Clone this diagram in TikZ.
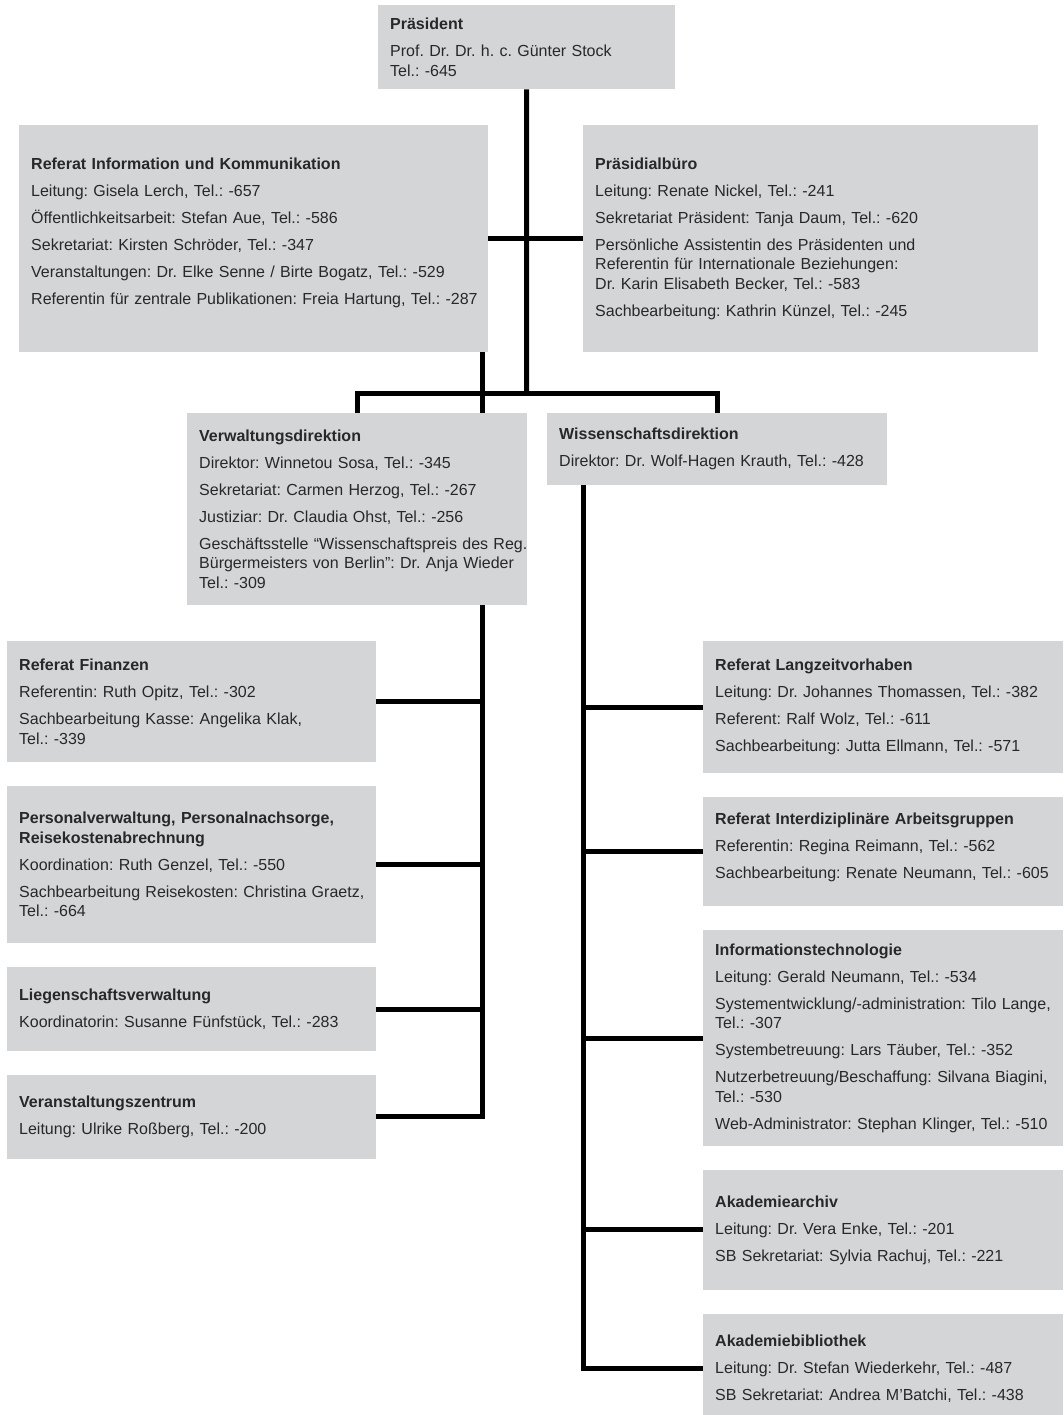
\documentclass[tikz,border=0pt]{standalone}
\usepackage{fontspec}
\setmainfont{Liberation Sans}
\usetikzlibrary{positioning,backgrounds}
\definecolor{boxgray}{RGB}{212,213,215}
\definecolor{inkgray}{RGB}{40,40,40}
\frenchspacing

\begin{document}
\begin{tikzpicture}[x=1pt, y=-1pt, node distance=23.5pt,
    unit/.style={rectangle, fill=boxgray, text=inkgray, align=left,
      inner xsep=12pt, inner ysep=0pt, anchor=north west,
      font=\fontsize{16}{19.5}\selectfont},
    leftcol/.style={unit, text width=345pt},
    rightcol/.style={unit, text width=336pt},
    link/.style={draw, black, line width=5pt}]

    \useasboundingbox (0,0) rectangle (1063,1415);

    % Place nodes: top of the chart
    \node [unit, text width=273pt, minimum height=84pt] (praes) at (378,5)
      {\textbf{Präsident}\\[7.5pt]
       Prof. Dr. Dr. h. c. Günter Stock\\
       Tel.: -645};
    \node [unit, text width=445pt, minimum height=227pt] (refinfo) at (19,125)
      {\textbf{Referat Information und Kommunikation}\\[7.5pt]
       Leitung: Gisela Lerch, Tel.: -657\\[7.5pt]
       Öffentlichkeitsarbeit: Stefan Aue, Tel.: -586\\[7.5pt]
       Sekretariat: Kirsten Schröder, Tel.: -347\\[7.5pt]
       Veranstaltungen: Dr. Elke Senne / Birte Bogatz, Tel.: -529\\[7.5pt]
       \mbox{Referentin für zentrale Publikationen: Freia Hartung, Tel.: -287}\par\vspace{12pt}};
    \node [unit, text width=431pt, minimum height=227pt] (buero) at (583,125)
      {\textbf{Präsidialbüro}\\[7.5pt]
       Leitung: Renate Nickel, Tel.: -241\\[7.5pt]
       Sekretariat Präsident: Tanja Daum, Tel.: -620\\[7.5pt]
       Persönliche Assistentin des Präsidenten und\\
       Referentin für Internationale Beziehungen:\\
       Dr. Karin Elisabeth Becker, Tel.: -583\\[7.5pt]
       Sachbearbeitung: Kathrin Künzel, Tel.: -245};
    \node [unit, text width=316pt, minimum height=192pt] (verw) at (187,413)
      {\textbf{Verwaltungsdirektion}\\[7.5pt]
       Direktor: Winnetou Sosa, Tel.: -345\\[7.5pt]
       Sekretariat: Carmen Herzog, Tel.: -267\\[7.5pt]
       Justiziar: Dr. Claudia Ohst, Tel.: -256\\[7.5pt]
       \mbox{Geschäftsstelle “Wissenschaftspreis des Reg.}\\
       \mbox{Bürgermeisters von Berlin”: Dr. Anja Wieder}\\
       Tel.: -309};
    \node [unit, text width=316pt, minimum height=72pt] (wiss) at (547,413)
      {\textbf{Wissenschaftsdirektion}\\[7.5pt]
       Direktor: Dr. Wolf-Hagen Krauth, Tel.: -428};

    % left column (Verwaltung)
    \node [leftcol, minimum height=121pt] (fin) at (7,641)
      {\textbf{Referat Finanzen}\\[7.5pt]
       Referentin: Ruth Opitz, Tel.: -302\\[7.5pt]
       Sachbearbeitung Kasse: Angelika Klak,\\
       Tel.: -339};
    \node [leftcol, minimum height=157pt, below=of fin] (pers)
      {\textbf{Personalverwaltung, Personalnachsorge,}\\
       \textbf{Reisekostenabrechnung}\\[7.5pt]
       Koordination: Ruth Genzel, Tel.: -550\\[7.5pt]
       \mbox{Sachbearbeitung Reisekosten: Christina Graetz,}\\
       Tel.: -664};
    \node [leftcol, minimum height=84pt, below=of pers] (lieg)
      {\textbf{Liegenschaftsverwaltung}\\[7.5pt]
       Koordinatorin: Susanne Fünfstück, Tel.: -283};
    \node [leftcol, minimum height=84pt, below=of lieg] (vzent)
      {\textbf{Veranstaltungszentrum}\\[7.5pt]
       Leitung: Ulrike Roßberg, Tel.: -200};

    % right column (Wissenschaft)
    \node [rightcol, minimum height=132pt] (lzv) at (703,641)
      {\textbf{Referat Langzeitvorhaben}\\[7.5pt]
       Leitung: Dr. Johannes Thomassen, Tel.: -382\\[7.5pt]
       Referent: Ralf Wolz, Tel.: -611\\[7.5pt]
       Sachbearbeitung: Jutta Ellmann, Tel.: -571};
    \node [rightcol, minimum height=109pt, below=of lzv] (iag)
      {\textbf{Referat Interdiziplinäre Arbeitsgruppen}\\[7.5pt]
       Referentin: Regina Reimann, Tel.: -562\\[7.5pt]
       Sachbearbeitung: Renate Neumann, Tel.: -605\par\vspace{8pt}};
    \node [rightcol, minimum height=216pt, below=of iag] (it)
      {\textbf{Informationstechnologie}\\[7.5pt]
       Leitung: Gerald Neumann, Tel.: -534\\[7.5pt]
       \mbox{Systementwicklung/-administration: Tilo Lange,}\\
       Tel.: -307\\[7.5pt]
       Systembetreuung: Lars Täuber, Tel.: -352\\[7.5pt]
       \mbox{Nutzerbetreuung/Beschaffung: Silvana Biagini,}\\
       Tel.: -530\\[7.5pt]
       Web-Administrator: Stephan Klinger, Tel.: -510};
    \node [rightcol, minimum height=120pt, below=of it] (archiv)
      {\textbf{Akademiearchiv}\\[7.5pt]
       Leitung: Dr. Vera Enke, Tel.: -201\\[7.5pt]
       SB Sekretariat: Sylvia Rachuj, Tel.: -221};
    \node [rightcol, minimum height=110pt, below=of archiv] (bib)
      {\textbf{Akademiebibliothek}\\[7.5pt]
       Leitung: Dr. Stefan Wiederkehr, Tel.: -487\\[7.5pt]
       SB Sekretariat: Andrea M’Batchi, Tel.: -438};

    % trunk points
    \coordinate (hub) at (526.5,393);
    \coordinate (lx) at (482,0);
    \coordinate (rx) at (583,0);

    \begin{scope}[on background layer, every path/.style=link]
    % top level
    \path (praes.south) -- (hub);
    \path (refinfo.east) -- (buero.west);
    \path (verw.north) |- (hub) -| (wiss.north);

    % left trunk
    \path (refinfo.south -| lx) |- (vzent.east);
    \foreach \n in {fin,pers,lieg}
      \path (\n.east) -- (\n.east -| lx);

    % right trunk
    \path (wiss.south -| rx) |- (bib.west);
    \foreach \n in {lzv,iag,it,archiv}
      \path (\n.west) -- (\n.west -| rx);
    \end{scope}

\end{tikzpicture}
\end{document}
